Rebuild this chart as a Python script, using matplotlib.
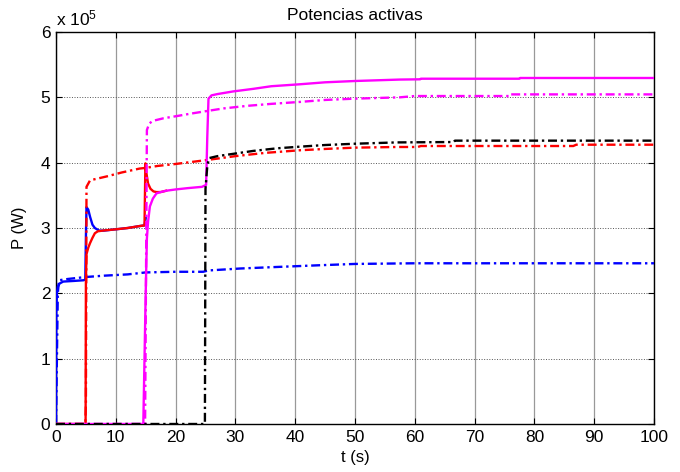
"""Potencias activas: active power of each unit vs time (MATLAB-style replot)."""
import matplotlib
matplotlib.use("Agg")
import matplotlib.pyplot as plt
import numpy as np

# ---- data (P in units of 1e5 W) ---------------------------------------------

t_blue = [0, 0.05, 0.15, 0.3, 0.6, 1.2, 3, 4.6, 4.9, 5.0, 5.1, 5.4, 5.7, 6.1,
          6.5, 7.2, 8, 10, 12, 14, 14.8, 15.0]
p_blue = [0, 1.69, 2.0, 2.1, 2.15, 2.18, 2.19, 2.2, 2.21, 2.85, 3.32, 3.28,
          3.17, 3.05, 3.0, 2.96, 2.96, 2.98, 3.0, 3.03, 3.04, 3.15]

t_blue_dd = [0, 0.3, 0.5, 2, 5, 8, 12, 15, 20, 24.6, 25.5, 30.8, 36, 44.1,
             50, 55, 60, 100]
p_blue_dd = [0, 2.0, 2.2, 2.22, 2.25, 2.27, 2.29, 2.32, 2.33, 2.33, 2.35,
             2.38, 2.4, 2.43, 2.45, 2.455, 2.46, 2.46]

t_red = [0, 4.95, 5.0, 5.05, 5.1, 5.4, 5.7, 6.1, 6.5, 7.0, 7.8, 10, 12, 14,
         14.8, 14.95, 15.1, 15.4, 15.8, 16.3, 16.8, 17.5, 18.4]
p_red = [0, 0, 2.15, 2.4, 2.6, 2.7, 2.77, 2.85, 2.92, 2.95, 2.96, 2.98, 3.0,
         3.03, 3.04, 3.99, 3.85, 3.68, 3.6, 3.56, 3.55, 3.55, 3.57]

t_red_dd = [0, 4.9, 5.0, 5.1, 5.7, 8.5, 11, 14, 15, 17, 20, 25.2, 30, 35,
            40.8, 45, 50, 57, 60.5, 61, 86.5, 87, 100]
p_red_dd = [0, 0, 0.3, 3.63, 3.73, 3.79, 3.85, 3.91, 3.92, 3.95, 3.98, 4.04,
            4.1, 4.15, 4.19, 4.21, 4.23, 4.24, 4.24, 4.255, 4.255, 4.275, 4.275]

t_mag = [0, 14.6, 14.8, 15.0, 15.2, 15.4, 15.7, 16.2, 16.8, 17.5, 18.4, 20,
         22, 24.4, 25.1, 25.3, 25.5, 26, 27, 29.6, 33, 36, 40.8, 45, 50, 57.5,
         60.9, 61, 77.5, 77.6, 100]
p_mag = [0, 0, 1.0, 2.0, 2.84, 3.1, 3.33, 3.45, 3.53, 3.55, 3.57, 3.59, 3.61,
         3.63, 3.66, 4.4, 4.98, 5.03, 5.05, 5.09, 5.13, 5.17, 5.2, 5.23, 5.25,
         5.272, 5.276, 5.285, 5.285, 5.296, 5.296]

t_mag_dd = [0, 14.9, 15.1, 15.2, 15.6, 16.2, 18, 20, 22.5, 25.2, 28, 32, 36,
            40.8, 45, 50, 57.5, 60, 75.8, 75.9, 100]
p_mag_dd = [0, 0, 3.0, 4.5, 4.6, 4.64, 4.68, 4.71, 4.75, 4.79, 4.83, 4.87,
            4.9, 4.93, 4.96, 4.98, 5.0, 5.02, 5.02, 5.045, 5.045]

t_blk_dd = [0, 24.9, 25.0, 25.3, 25.6, 27, 30, 33, 37, 40.8, 45, 50, 57,
            66.5, 66.7, 100]
p_blk_dd = [0, 0, 3.6, 3.95, 4.07, 4.1, 4.14, 4.18, 4.22, 4.245, 4.27, 4.29,
            4.31, 4.316, 4.337, 4.337]

x_ticks = [0, 10, 20, 30, 40, 50, 60, 70, 80, 90, 100]
y_ticks = [0, 1, 2, 3, 4, 5, 6]
SCALE = 1e5

# ---- style -------------------------------------------------------------------

DASHDOT = (0, (3.8, 1.6, 1.0, 1.6))
LW = 1.7

series = [
    (t_blue, p_blue, "#0000ff", "-"),
    (t_blue_dd, p_blue_dd, "#0000ff", DASHDOT),
    (t_red, p_red, "#ff0000", "-"),
    (t_red_dd, p_red_dd, "#ff0000", DASHDOT),
    (t_mag, p_mag, "#ff00ff", "-"),
    (t_mag_dd, p_mag_dd, "#ff00ff", DASHDOT),
    (t_blk_dd, p_blk_dd, "#000000", DASHDOT),
]

plt.rcParams["font.family"] = ["Liberation Sans", "DejaVu Sans"]
plt.rcParams["mathtext.fontset"] = "custom"
plt.rcParams["mathtext.rm"] = "Liberation Sans"
plt.rcParams["mathtext.default"] = "regular"

fig = plt.figure(figsize=(6.8, 4.72), dpi=100)
ax = fig.add_axes([56 / 680, 48 / 472, 598 / 680, 392 / 472])

for t, p, c, ls in series:
    ax.plot(t, np.asarray(p) * SCALE, color=c, linestyle=ls, linewidth=LW,
            zorder=3)

ax.set_xlim(0, 100)
ax.set_ylim(0, 6 * SCALE)
ax.set_xticks(x_ticks)
ax.set_yticks([v * SCALE for v in y_ticks])
ax.set_yticklabels([str(v) for v in y_ticks])

# MATLAB-like grid: vertical solid grey, horizontal dotted
ax.grid(True, axis="x", color="#999999", linewidth=0.9, linestyle="-", zorder=1)
ax.grid(True, axis="y", color="#555555", linewidth=0.7, linestyle=":", zorder=1)

ax.tick_params(direction="in", top=True, right=True, length=4, width=0.8,
               labelsize=12.5, pad=4)
for sp in ax.spines.values():
    sp.set_linewidth(1.0)

ax.set_xlabel("t (s)", fontsize=12, labelpad=4)
ax.set_ylabel("P (W)", fontsize=12, labelpad=10)
ax.set_title("Potencias activas", fontsize=12.5, pad=9)
ax.text(0.0, 1.008, r"x 10$^{5}$", transform=ax.transAxes, ha="left",
        va="bottom", fontsize=12.5)

fig.savefig("out.png", dpi=100)
